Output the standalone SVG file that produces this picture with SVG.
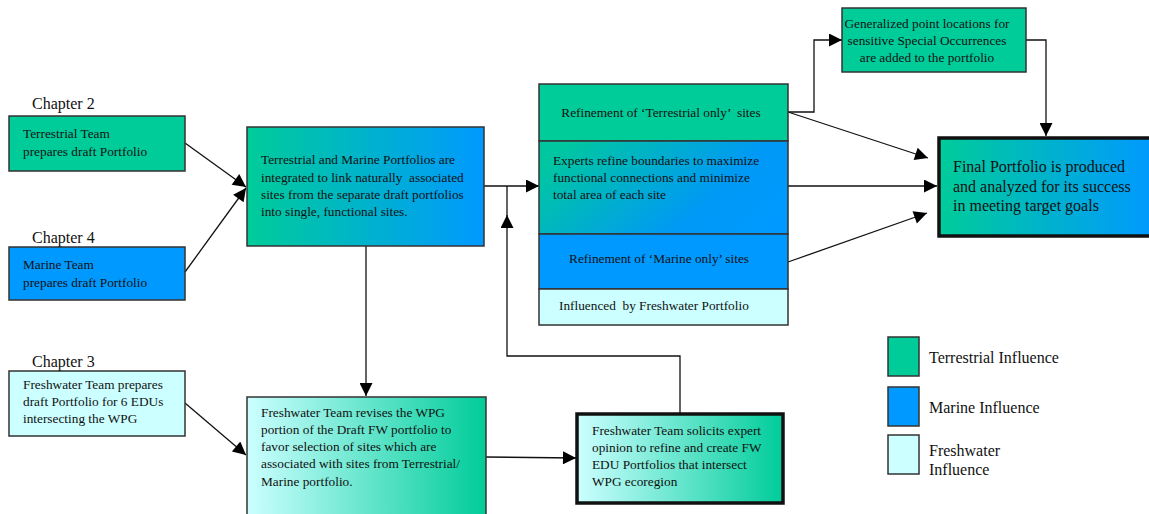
<svg xmlns="http://www.w3.org/2000/svg" width="1149" height="514" viewBox="0 0 1149 514">
<style>
text{font-family:"Liberation Serif","Times New Roman",serif;fill:#111;white-space:pre;}
.t{font-size:13.3px;}
.big{font-size:16px;}
.box{stroke:#333;stroke-width:1.5;}
.thick{stroke:#111;stroke-width:3.5;}
.terr{fill:#00CC99;}
.mar{fill:#0099FF;}
.fw{fill:#CCFFFF;}
.c{fill:none;stroke:#111;stroke-width:1.3;}
</style>
<defs>
<linearGradient id="gTM" x1="0" y1="0" x2="1" y2="0"><stop offset="0" stop-color="#00CC99"/><stop offset="1" stop-color="#0099FF"/></linearGradient>
<linearGradient id="gEx" x1="0" y1="0.3" x2="1" y2="0.7"><stop offset="0" stop-color="#00C7A0"/><stop offset="0.7" stop-color="#0099F5"/><stop offset="1" stop-color="#0099FF"/></linearGradient>
<linearGradient id="gFT" x1="0" y1="0" x2="1" y2="0"><stop offset="0" stop-color="#CCFFFF"/><stop offset="1" stop-color="#00CC99"/></linearGradient>
<marker id="ah" viewBox="0 0 10 10" refX="10" refY="5" markerWidth="15" markerHeight="13" markerUnits="userSpaceOnUse" orient="auto"><path d="M0,0 L10,5 L0,10 z" fill="#000"/></marker>
</defs>

<g id="connectors">
<line class="c" x1="185" y1="143" x2="246" y2="187" marker-end="url(#ah)"/>
<line class="c" x1="185" y1="272" x2="246" y2="188" marker-end="url(#ah)"/>
<line class="c" x1="185" y1="403" x2="246" y2="455" marker-end="url(#ah)"/>
<line class="c" x1="484" y1="186" x2="539" y2="186" marker-end="url(#ah)"/>
<line class="c" x1="366" y1="246" x2="366" y2="396" marker-end="url(#ah)"/>
<line class="c" x1="486" y1="457" x2="576" y2="458" marker-end="url(#ah)"/>
<path class="c" d="M680,413 V356 H507 V215" marker-end="url(#ah)"/>
<path class="c" d="M507,216 V186"/>
<path class="c" d="M788,112 H814 V40 H842" marker-end="url(#ah)"/>
<path class="c" d="M1026,40 H1046 V136" marker-end="url(#ah)"/>
<line class="c" x1="788" y1="112" x2="928" y2="158" marker-end="url(#ah)"/>
<line class="c" x1="788" y1="186" x2="937" y2="186" marker-end="url(#ah)"/>
<line class="c" x1="788" y1="262" x2="927" y2="213" marker-end="url(#ah)"/>
</g>

<g id="chapter2">
<text class="big" x="32" y="109">Chapter 2</text>
</g>
<g id="terrestrial-team">
<rect class="box terr" x="9" y="116" width="176" height="55"/>
<text class="t" x="23" y="138">Terrestrial Team</text>
<text class="t" x="23" y="156">prepares draft Portfolio</text>
</g>

<g id="chapter4">
<text class="big" x="32" y="243">Chapter 4</text>
</g>
<g id="marine-team">
<rect class="box mar" x="9" y="247" width="176" height="53"/>
<text class="t" x="23" y="269">Marine Team</text>
<text class="t" x="23" y="287">prepares draft Portfolio</text>
</g>

<g id="chapter3">
<text class="big" x="32" y="367">Chapter 3</text>
</g>
<g id="freshwater-team">
<rect class="box fw" x="9" y="371" width="176" height="65"/>
<text class="t" x="23" y="389">Freshwater Team prepares</text>
<text class="t" x="23" y="406">draft Portfolio for 6 EDUs</text>
<text class="t" x="23" y="423">intersecting the WPG</text>
</g>

<g id="integrated">
<rect class="box" x="247" y="127" width="237" height="119" fill="url(#gTM)"/>
<text class="t" x="261" y="164">Terrestrial and Marine Portfolios are</text>
<text class="t" x="261" y="182">integrated to link naturally  associated</text>
<text class="t" x="261" y="199">sites from the separate draft portfolios</text>
<text class="t" x="261" y="216">into single, functional sites.</text>
</g>

<g id="revise">
<rect class="box" x="247" y="397" width="239" height="125" fill="url(#gFT)"/>
<text class="t" x="261" y="417">Freshwater Team revises the WPG</text>
<text class="t" x="261" y="434">portion of the Draft FW portfolio to</text>
<text class="t" x="261" y="451">favor selection of sites which are</text>
<text class="t" x="261" y="468">associated with sites from Terrestrial/</text>
<text class="t" x="261" y="486">Marine portfolio.</text>
</g>

<g id="solicit">
<rect class="thick" x="577" y="414" width="206" height="89" fill="url(#gFT)"/>
<text class="t" x="592" y="435">Freshwater Team solicits expert</text>
<text class="t" x="592" y="452">opinion to refine and create FW</text>
<text class="t" x="592" y="469">EDU Portfolios that intersect</text>
<text class="t" x="592" y="486">WPG ecoregion</text>
</g>

<g id="refinement">
<rect class="box terr" x="539" y="84" width="249" height="57"/>
<rect class="box" x="539" y="141" width="249" height="93" fill="url(#gEx)"/>
<rect class="box mar" x="539" y="234" width="249" height="55"/>
<rect class="box fw" x="539" y="289" width="249" height="36"/>
<text class="t" x="661" y="117" text-anchor="middle">Refinement of ‘Terrestrial only’  sites</text>
<text class="t" x="553" y="165">Experts refine boundaries to maximize</text>
<text class="t" x="553" y="182">functional connections and minimize</text>
<text class="t" x="553" y="199">total area of each site</text>
<text class="t" x="659" y="263" text-anchor="middle">Refinement of ‘Marine only’ sites</text>
<text class="t" x="559" y="310">Influenced  by Freshwater Portfolio</text>
</g>

<g id="generalized">
<rect class="box terr" x="842" y="8" width="184" height="64"/>
<text class="t" x="927" y="28" text-anchor="middle">Generalized point locations for</text>
<text class="t" x="927" y="45" text-anchor="middle">sensitive Special Occurrences</text>
<text class="t" x="927" y="62" text-anchor="middle">are added to the portfolio</text>
</g>

<g id="final">
<rect class="thick" x="939" y="138" width="215" height="98" fill="url(#gTM)"/>
<text class="big" x="953" y="172">Final Portfolio is produced</text>
<text class="big" x="953" y="192">and analyzed for its success</text>
<text class="big" x="953" y="211">in meeting target goals</text>
</g>

<g id="legend">
<rect class="box terr" x="888" y="337" width="31" height="39"/>
<text class="big" x="929" y="363">Terrestrial Influence</text>
<rect class="box mar" x="888" y="387" width="31" height="39"/>
<text class="big" x="929" y="413">Marine Influence</text>
<rect class="box fw" x="888" y="435" width="31" height="39"/>
<text class="big" x="929" y="456">Freshwater</text>
<text class="big" x="929" y="475">Influence</text>
</g>
</svg>
